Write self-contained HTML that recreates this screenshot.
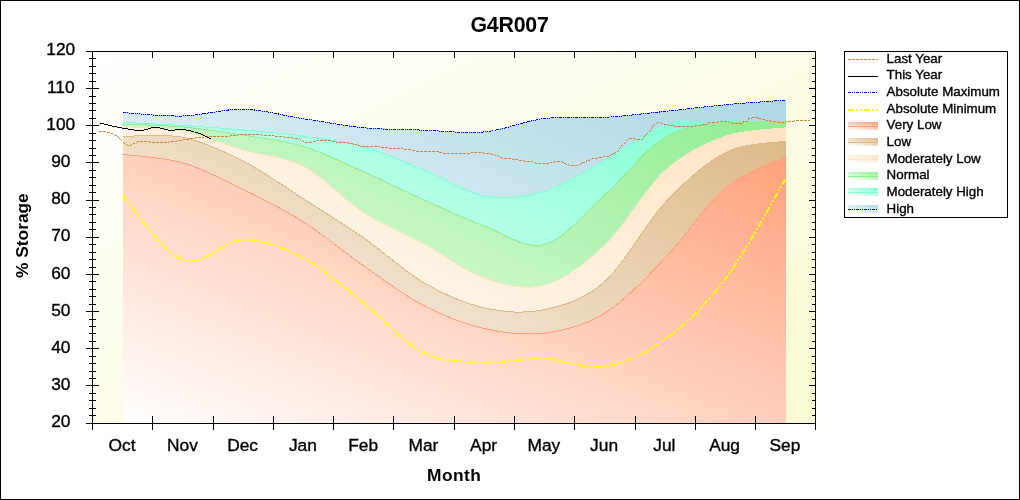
<!DOCTYPE html>
<html><head><meta charset="utf-8"><title>G4R007</title>
<style>html,body{margin:0;padding:0;background:#fff;}svg{display:block;}</style>
</head><body>
<svg width="1020" height="500" viewBox="0 0 1020 500">
<defs>
<linearGradient id="bg" x1="0" y1="0" x2="1" y2="1"><stop offset="0" stop-color="#FFFFFF"/><stop offset="1" stop-color="#FAFAD2"/></linearGradient>
<linearGradient id="gAMAX" x1="0" y1="1" x2="1" y2="0"><stop offset="0" stop-color="#FFFFFF"/><stop offset="1" stop-color="#ADD8E6"/></linearGradient>
<linearGradient id="gMH" x1="0" y1="1" x2="1" y2="0"><stop offset="0" stop-color="#FFFFFF"/><stop offset="1" stop-color="#7FFFD4"/></linearGradient>
<linearGradient id="gN" x1="0" y1="1" x2="1" y2="0"><stop offset="0" stop-color="#FFFFFF"/><stop offset="1" stop-color="#90EE90"/></linearGradient>
<linearGradient id="gML" x1="0" y1="1" x2="1" y2="0"><stop offset="0" stop-color="#FFFFFF"/><stop offset="1" stop-color="#FFE4C4"/></linearGradient>
<linearGradient id="gL" x1="0" y1="1" x2="1" y2="0"><stop offset="0" stop-color="#FFFFFF"/><stop offset="1" stop-color="#DEB887"/></linearGradient>
<linearGradient id="gVL" x1="0" y1="1" x2="1" y2="0"><stop offset="0" stop-color="#FFFFFF"/><stop offset="1" stop-color="#FFA07A"/></linearGradient>
</defs>
<rect x="0" y="0" width="1020" height="500" fill="#FFFFFF"/>
<rect x="0.5" y="0.5" width="1019" height="499" fill="none" stroke="#000" stroke-width="1" shape-rendering="crispEdges"/>
<rect x="92" y="51" width="723" height="372" fill="url(#bg)" shape-rendering="crispEdges"/>
<path d="M122.80,112.57 C132.84,113.14 162.97,116.55 183.05,115.99 C203.14,115.43 223.22,108.78 243.31,109.24 C263.39,109.70 283.48,115.66 303.56,118.74 C323.65,121.82 343.73,125.82 363.82,127.73 C383.90,129.63 403.99,129.47 424.07,130.16 C444.16,130.86 464.24,133.84 484.33,131.90 C504.41,129.97 524.50,120.99 544.58,118.56 C564.67,116.13 584.75,118.50 604.84,117.31 C624.92,116.12 645.01,113.50 665.09,111.42 C685.18,109.33 705.26,106.68 725.35,104.79 C745.43,102.90 775.56,100.89 785.60,100.11 L785.60,423 L122.80,423 Z" fill="url(#gAMAX)" shape-rendering="crispEdges"/>
<path d="M122.80,112.57 C132.84,113.14 162.97,116.55 183.05,115.99 C203.14,115.43 223.22,108.78 243.31,109.24 C263.39,109.70 283.48,115.66 303.56,118.74 C323.65,121.82 343.73,125.82 363.82,127.73 C383.90,129.63 403.99,129.47 424.07,130.16 C444.16,130.86 464.24,133.84 484.33,131.90 C504.41,129.97 524.50,120.99 544.58,118.56 C564.67,116.13 584.75,118.50 604.84,117.31 C624.92,116.12 645.01,113.50 665.09,111.42 C685.18,109.33 705.26,106.68 725.35,104.79 C745.43,102.90 775.56,100.89 785.60,100.11" fill="none" stroke="#ADD8E6" stroke-width="1" shape-rendering="crispEdges"/>
<path d="M122.80,122.29 C132.84,122.84 162.97,124.29 183.05,125.57 C203.14,126.85 223.22,128.21 243.31,129.97 C263.39,131.72 283.48,133.29 303.56,136.12 C323.65,138.94 343.73,141.26 363.82,146.92 C383.90,152.58 403.99,161.88 424.07,170.07 C444.16,178.26 464.24,192.50 484.33,196.05 C504.41,199.60 524.50,197.30 544.58,191.36 C564.67,185.42 584.75,171.44 604.84,160.42 C624.92,149.40 645.01,131.65 665.09,125.23 C685.18,118.81 705.26,122.60 725.35,121.90 C745.43,121.19 775.56,121.14 785.60,120.99 L785.60,423 L122.80,423 Z" fill="url(#gMH)" shape-rendering="crispEdges"/>
<path d="M122.80,122.29 C132.84,122.84 162.97,124.29 183.05,125.57 C203.14,126.85 223.22,128.21 243.31,129.97 C263.39,131.72 283.48,133.29 303.56,136.12 C323.65,138.94 343.73,141.26 363.82,146.92 C383.90,152.58 403.99,161.88 424.07,170.07 C444.16,178.26 464.24,192.50 484.33,196.05 C504.41,199.60 524.50,197.30 544.58,191.36 C564.67,185.42 584.75,171.44 604.84,160.42 C624.92,149.40 645.01,131.65 665.09,125.23 C685.18,118.81 705.26,122.60 725.35,121.90 C745.43,121.19 775.56,121.14 785.60,120.99" fill="none" stroke="#7FFFD4" stroke-width="1" shape-rendering="crispEdges"/>
<path d="M122.80,124.12 C132.84,124.61 162.97,125.20 183.05,127.04 C203.14,128.88 223.22,131.92 243.31,135.17 C263.39,138.42 283.48,140.44 303.56,146.55 C323.65,152.67 343.73,162.98 363.82,171.88 C383.90,180.77 403.99,190.87 424.07,199.91 C444.16,208.95 464.24,218.71 484.33,226.14 C504.41,233.56 524.50,249.72 544.58,244.48 C564.67,239.24 584.75,212.56 604.84,194.69 C624.92,176.82 645.01,149.28 665.09,137.27 C685.18,125.25 705.26,125.15 725.35,122.60 C745.43,120.05 775.56,122.07 785.60,121.97 L785.60,423 L122.80,423 Z" fill="url(#gN)" shape-rendering="crispEdges"/>
<path d="M122.2,124.12 L122.80,124.12 C132.84,124.61 162.97,125.20 183.05,127.04 C203.14,128.88 223.22,131.92 243.31,135.17 C263.39,138.42 283.48,140.44 303.56,146.55 C323.65,152.67 343.73,162.98 363.82,171.88 C383.90,180.77 403.99,190.87 424.07,199.91 C444.16,208.95 464.24,218.71 484.33,226.14 C504.41,233.56 524.50,249.72 544.58,244.48 C564.67,239.24 584.75,212.56 604.84,194.69 C624.92,176.82 645.01,149.28 665.09,137.27 C685.18,125.25 705.26,125.15 725.35,122.60 C745.43,120.05 775.56,122.07 785.60,121.97" fill="none" stroke="#90EE90" stroke-width="1" shape-rendering="crispEdges"/>
<path d="M122.80,126.48 C132.84,127.31 162.97,127.47 183.05,131.41 C203.14,135.35 223.22,144.27 243.31,150.11 C263.39,155.94 283.48,155.95 303.56,166.42 C323.65,176.89 343.73,199.99 363.82,212.92 C383.90,225.86 403.99,233.12 424.07,244.02 C444.16,254.91 464.24,271.43 484.33,278.29 C504.41,285.16 524.50,290.74 544.58,285.22 C564.67,279.69 584.75,264.22 604.84,245.13 C624.92,226.03 645.01,188.76 665.09,170.62 C685.18,152.48 705.26,143.41 725.35,136.29 C745.43,129.17 775.56,129.29 785.60,127.88 L785.60,423 L122.80,423 Z" fill="url(#gML)" shape-rendering="crispEdges"/>
<path d="M122.80,126.48 C132.84,127.31 162.97,127.47 183.05,131.41 C203.14,135.35 223.22,144.27 243.31,150.11 C263.39,155.94 283.48,155.95 303.56,166.42 C323.65,176.89 343.73,199.99 363.82,212.92 C383.90,225.86 403.99,233.12 424.07,244.02 C444.16,254.91 464.24,271.43 484.33,278.29 C504.41,285.16 524.50,290.74 544.58,285.22 C564.67,279.69 584.75,264.22 604.84,245.13 C624.92,226.03 645.01,188.76 665.09,170.62 C685.18,152.48 705.26,143.41 725.35,136.29 C745.43,129.17 775.56,129.29 785.60,127.88" fill="none" stroke="#FFE4C4" stroke-width="1" shape-rendering="crispEdges"/>
<path d="M122.80,136.40 C132.84,136.56 162.97,133.28 183.05,137.40 C203.14,141.52 223.22,150.86 243.31,161.12 C263.39,171.37 283.48,186.11 303.56,198.92 C323.65,211.73 343.73,223.99 363.82,237.98 C383.90,251.98 403.99,271.23 424.07,282.89 C444.16,294.54 464.24,303.45 484.33,307.91 C504.41,312.37 524.50,314.03 544.58,309.63 C564.67,305.24 584.75,299.38 604.84,281.55 C624.92,263.72 645.01,224.14 665.09,202.66 C685.18,181.19 705.26,162.95 725.35,152.69 C745.43,142.44 775.56,143.04 785.60,141.11 L785.60,423 L122.80,423 Z" fill="url(#gL)" shape-rendering="crispEdges"/>
<path d="M122.80,136.40 C132.84,136.56 162.97,133.28 183.05,137.40 C203.14,141.52 223.22,150.86 243.31,161.12 C263.39,171.37 283.48,186.11 303.56,198.92 C323.65,211.73 343.73,223.99 363.82,237.98 C383.90,251.98 403.99,271.23 424.07,282.89 C444.16,294.54 464.24,303.45 484.33,307.91 C504.41,312.37 524.50,314.03 544.58,309.63 C564.67,305.24 584.75,299.38 604.84,281.55 C624.92,263.72 645.01,224.14 665.09,202.66 C685.18,181.19 705.26,162.95 725.35,152.69 C745.43,142.44 775.56,143.04 785.60,141.11" fill="none" stroke="#DEB887" stroke-width="1" shape-rendering="crispEdges"/>
<path d="M122.80,154.36 C132.84,155.78 162.97,157.04 183.05,162.90 C203.14,168.75 223.22,179.67 243.31,189.51 C263.39,199.35 283.48,209.19 303.56,221.94 C323.65,234.69 343.73,252.05 363.82,266.02 C383.90,279.99 403.99,295.33 424.07,305.75 C444.16,316.18 464.24,324.04 484.33,328.58 C504.41,333.13 524.50,335.60 544.58,333.03 C564.67,330.47 584.75,325.67 604.84,313.18 C624.92,300.69 645.01,278.93 665.09,258.08 C685.18,237.24 705.26,204.95 725.35,188.10 C745.43,171.25 775.56,162.17 785.60,156.99 L785.60,423 L122.80,423 Z" fill="url(#gVL)" shape-rendering="crispEdges"/>
<path d="M122.2,154.36 L122.80,154.36 C132.84,155.78 162.97,157.04 183.05,162.90 C203.14,168.75 223.22,179.67 243.31,189.51 C263.39,199.35 283.48,209.19 303.56,221.94 C323.65,234.69 343.73,252.05 363.82,266.02 C383.90,279.99 403.99,295.33 424.07,305.75 C444.16,316.18 464.24,324.04 484.33,328.58 C504.41,333.13 524.50,335.60 544.58,333.03 C564.67,330.47 584.75,325.67 604.84,313.18 C624.92,300.69 645.01,278.93 665.09,258.08 C685.18,237.24 705.26,204.95 725.35,188.10 C745.43,171.25 775.56,162.17 785.60,156.99" fill="none" stroke="#FFA07A" stroke-width="1" shape-rendering="crispEdges"/>
<path d="M99,131h1v1h-1zM100,131h1v1h-1zM101,131h1v1h-1zM103,131h1v1h-1zM104,131h1v1h-1zM105,131h1v1h-1zM107,132h1v1h-1zM108,132h1v1h-1zM109,132h1v1h-1zM111,133h1v1h-1zM112,133h1v1h-1zM114,134h1v1h-1zM115,135h1v1h-1zM116,135h1v1h-1zM117,136h1v1h-1zM118,137h1v1h-1zM119,138h1v1h-1zM120,139h1v1h-1zM121,140h1v1h-1zM123,142h1v1h-1zM124,143h1v1h-1zM126,144h1v1h-1zM127,145h1v1h-1zM128,145h1v1h-1zM130,145h1v1h-1zM131,144h1v1h-1zM133,143h1v1h-1zM134,143h1v1h-1zM136,142h1v1h-1zM137,141h1v1h-1zM138,141h1v1h-1zM140,141h1v1h-1zM141,141h1v1h-1zM142,141h1v1h-1zM144,141h1v1h-1zM145,141h1v1h-1zM146,141h1v1h-1zM148,141h1v1h-1zM149,141h1v1h-1zM150,142h1v1h-1zM152,142h1v1h-1zM153,142h1v1h-1zM154,142h1v1h-1zM156,142h1v1h-1zM157,142h1v1h-1zM158,142h1v1h-1zM160,142h1v1h-1zM161,142h1v1h-1zM162,142h1v1h-1zM164,142h1v1h-1zM165,142h1v1h-1zM166,142h1v1h-1zM168,142h1v1h-1zM169,141h1v1h-1zM171,141h1v1h-1zM172,141h1v1h-1zM173,141h1v1h-1zM175,141h1v1h-1zM176,141h1v1h-1zM177,140h1v1h-1zM179,140h1v1h-1zM180,140h1v1h-1zM181,140h1v1h-1zM183,139h1v1h-1zM184,139h1v1h-1zM186,139h1v1h-1zM187,139h1v1h-1zM188,139h1v1h-1zM190,138h1v1h-1zM191,138h1v1h-1zM192,138h1v1h-1zM194,138h1v1h-1zM195,137h1v1h-1zM196,137h1v1h-1zM198,137h1v1h-1zM199,137h1v1h-1zM200,137h1v1h-1zM202,137h1v1h-1zM203,137h1v1h-1zM205,136h1v1h-1zM206,136h1v1h-1zM207,136h1v1h-1zM209,136h1v1h-1zM210,136h1v1h-1zM211,136h1v1h-1zM213,136h1v1h-1zM214,136h1v1h-1zM215,136h1v1h-1zM217,136h1v1h-1zM218,136h1v1h-1zM219,136h1v1h-1zM221,136h1v1h-1zM222,136h1v1h-1zM223,136h1v1h-1zM225,136h1v1h-1zM226,136h1v1h-1zM227,136h1v1h-1zM229,136h1v1h-1zM230,135h1v1h-1zM231,135h1v1h-1zM233,135h1v1h-1zM234,135h1v1h-1zM235,135h1v1h-1zM237,135h1v1h-1zM238,134h1v1h-1zM240,134h1v1h-1zM241,134h1v1h-1zM242,134h1v1h-1zM244,134h1v1h-1zM245,134h1v1h-1zM246,134h1v1h-1zM248,134h1v1h-1zM249,134h1v1h-1zM250,134h1v1h-1zM252,134h1v1h-1zM253,134h1v1h-1zM254,134h1v1h-1zM256,134h1v1h-1zM257,134h1v1h-1zM258,134h1v1h-1zM260,134h1v1h-1zM261,134h1v1h-1zM262,135h1v1h-1zM264,135h1v1h-1zM265,135h1v1h-1zM266,135h1v1h-1zM268,135h1v1h-1zM269,135h1v1h-1zM270,135h1v1h-1zM272,135h1v1h-1zM273,135h1v1h-1zM275,136h1v1h-1zM276,136h1v1h-1zM277,136h1v1h-1zM279,136h1v1h-1zM280,136h1v1h-1zM281,136h1v1h-1zM283,136h1v1h-1zM284,137h1v1h-1zM285,137h1v1h-1zM287,137h1v1h-1zM288,137h1v1h-1zM289,137h1v1h-1zM291,137h1v1h-1zM292,137h1v1h-1zM293,138h1v1h-1zM295,138h1v1h-1zM296,138h1v1h-1zM297,138h1v1h-1zM299,138h1v1h-1zM300,139h1v1h-1zM302,140h1v1h-1zM303,141h1v1h-1zM305,142h1v1h-1zM306,142h1v1h-1zM307,142h1v1h-1zM309,142h1v1h-1zM310,142h1v1h-1zM311,142h1v1h-1zM313,141h1v1h-1zM314,141h1v1h-1zM315,141h1v1h-1zM317,140h1v1h-1zM318,140h1v1h-1zM320,140h1v1h-1zM321,140h1v1h-1zM322,140h1v1h-1zM324,140h1v1h-1zM325,140h1v1h-1zM326,140h1v1h-1zM328,140h1v1h-1zM329,140h1v1h-1zM330,140h1v1h-1zM332,141h1v1h-1zM333,141h1v1h-1zM334,141h1v1h-1zM336,142h1v1h-1zM337,142h1v1h-1zM339,142h1v1h-1zM340,142h1v1h-1zM341,142h1v1h-1zM343,142h1v1h-1zM344,142h1v1h-1zM345,142h1v1h-1zM347,142h1v1h-1zM348,143h1v1h-1zM349,143h1v1h-1zM351,143h1v1h-1zM352,143h1v1h-1zM353,144h1v1h-1zM355,144h1v1h-1zM356,144h1v1h-1zM358,145h1v1h-1zM359,145h1v1h-1zM360,146h1v1h-1zM362,146h1v1h-1zM363,146h1v1h-1zM364,146h1v1h-1zM366,146h1v1h-1zM367,146h1v1h-1zM368,146h1v1h-1zM370,146h1v1h-1zM371,146h1v1h-1zM372,146h1v1h-1zM374,146h1v1h-1zM375,146h1v1h-1zM376,146h1v1h-1zM378,146h1v1h-1zM379,146h1v1h-1zM381,147h1v1h-1zM382,147h1v1h-1zM383,147h1v1h-1zM385,147h1v1h-1zM386,147h1v1h-1zM387,147h1v1h-1zM389,148h1v1h-1zM390,148h1v1h-1zM391,148h1v1h-1zM393,148h1v1h-1zM394,148h1v1h-1zM395,148h1v1h-1zM397,148h1v1h-1zM398,148h1v1h-1zM399,148h1v1h-1zM401,148h1v1h-1zM402,148h1v1h-1zM404,149h1v1h-1zM405,149h1v1h-1zM406,149h1v1h-1zM408,149h1v1h-1zM409,149h1v1h-1zM410,149h1v1h-1zM412,150h1v1h-1zM413,150h1v1h-1zM414,150h1v1h-1zM416,151h1v1h-1zM417,151h1v1h-1zM418,151h1v1h-1zM420,151h1v1h-1zM421,151h1v1h-1zM422,151h1v1h-1zM424,151h1v1h-1zM425,151h1v1h-1zM426,151h1v1h-1zM428,151h1v1h-1zM429,151h1v1h-1zM430,151h1v1h-1zM432,151h1v1h-1zM433,151h1v1h-1zM434,151h1v1h-1zM436,151h1v1h-1zM437,151h1v1h-1zM438,151h1v1h-1zM439,152h1v1h-1zM440,152h1v1h-1zM441,152h1v1h-1zM443,153h1v1h-1zM444,153h1v1h-1zM445,153h1v1h-1zM447,153h1v1h-1zM448,153h1v1h-1zM449,153h1v1h-1zM451,153h1v1h-1zM452,153h1v1h-1zM453,153h1v1h-1zM455,153h1v1h-1zM456,153h1v1h-1zM457,153h1v1h-1zM459,153h1v1h-1zM460,153h1v1h-1zM461,153h1v1h-1zM463,153h1v1h-1zM464,153h1v1h-1zM465,153h1v1h-1zM467,153h1v1h-1zM468,153h1v1h-1zM469,153h1v1h-1zM471,152h1v1h-1zM472,152h1v1h-1zM474,152h1v1h-1zM475,152h1v1h-1zM476,152h1v1h-1zM478,152h1v1h-1zM479,152h1v1h-1zM480,152h1v1h-1zM482,152h1v1h-1zM483,153h1v1h-1zM484,153h1v1h-1zM486,153h1v1h-1zM487,153h1v1h-1zM488,153h1v1h-1zM490,153h1v1h-1zM491,154h1v1h-1zM492,154h1v1h-1zM494,154h1v1h-1zM495,155h1v1h-1zM497,155h1v1h-1zM498,156h1v1h-1zM500,157h1v1h-1zM501,157h1v1h-1zM502,158h1v1h-1zM504,158h1v1h-1zM505,158h1v1h-1zM506,158h1v1h-1zM508,158h1v1h-1zM509,158h1v1h-1zM510,158h1v1h-1zM512,159h1v1h-1zM513,159h1v1h-1zM515,159h1v1h-1zM516,159h1v1h-1zM517,159h1v1h-1zM519,160h1v1h-1zM520,160h1v1h-1zM521,160h1v1h-1zM523,160h1v1h-1zM524,161h1v1h-1zM525,161h1v1h-1zM527,161h1v1h-1zM528,161h1v1h-1zM529,161h1v1h-1zM531,161h1v1h-1zM532,161h1v1h-1zM534,162h1v1h-1zM535,163h1v1h-1zM536,163h1v1h-1zM538,163h1v1h-1zM539,163h1v1h-1zM540,163h1v1h-1zM542,163h1v1h-1zM543,163h1v1h-1zM544,163h1v1h-1zM546,163h1v1h-1zM547,163h1v1h-1zM548,163h1v1h-1zM550,162h1v1h-1zM551,162h1v1h-1zM553,162h1v1h-1zM554,161h1v1h-1zM555,161h1v1h-1zM557,161h1v1h-1zM558,161h1v1h-1zM559,161h1v1h-1zM561,161h1v1h-1zM562,162h1v1h-1zM563,162h1v1h-1zM564,163h1v1h-1zM565,163h1v1h-1zM566,164h1v1h-1zM568,164h1v1h-1zM569,165h1v1h-1zM571,165h1v1h-1zM572,165h1v1h-1zM573,165h1v1h-1zM575,165h1v1h-1zM576,165h1v1h-1zM577,165h1v1h-1zM579,164h1v1h-1zM580,164h1v1h-1zM581,163h1v1h-1zM582,162h1v1h-1zM583,162h1v1h-1zM584,162h1v1h-1zM586,161h1v1h-1zM586,160h1v1h-1zM588,160h1v1h-1zM589,160h1v1h-1zM590,159h1v1h-1zM592,158h1v1h-1zM593,158h1v1h-1zM595,158h1v1h-1zM596,158h1v1h-1zM597,158h1v1h-1zM599,157h1v1h-1zM600,157h1v1h-1zM601,157h1v1h-1zM603,156h1v1h-1zM604,156h1v1h-1zM606,156h1v1h-1zM607,156h1v1h-1zM608,156h1v1h-1zM610,155h1v1h-1zM611,154h1v1h-1zM612,154h1v1h-1zM613,153h1v1h-1zM614,153h1v1h-1zM615,152h1v1h-1zM617,151h1v1h-1zM618,150h1v1h-1zM619,148h1v1h-1zM620,147h1v1h-1zM621,145h1v1h-1zM622,145h1v1h-1zM624,143h1v1h-1zM625,142h1v1h-1zM626,140h1v1h-1zM627,139h1v1h-1zM629,138h1v1h-1zM630,138h1v1h-1zM631,138h1v1h-1zM633,138h1v1h-1zM634,138h1v1h-1zM635,139h1v1h-1zM637,139h1v1h-1zM638,139h1v1h-1zM639,139h1v1h-1zM641,139h1v1h-1zM642,139h1v1h-1zM643,137h1v1h-1zM644,136h1v1h-1zM645,135h1v1h-1zM646,134h1v1h-1zM647,133h1v1h-1zM649,131h1v1h-1zM650,130h1v1h-1zM651,128h1v1h-1zM652,127h1v1h-1zM652,126h1v1h-1zM653,125h1v1h-1zM654,124h1v1h-1zM656,123h1v1h-1zM657,122h1v1h-1zM658,122h1v1h-1zM660,122h1v1h-1zM661,123h1v1h-1zM662,123h1v1h-1zM664,124h1v1h-1zM665,124h1v1h-1zM667,124h1v1h-1zM668,125h1v1h-1zM669,125h1v1h-1zM671,125h1v1h-1zM672,125h1v1h-1zM673,125h1v1h-1zM674,126h1v1h-1zM675,126h1v1h-1zM676,126h1v1h-1zM678,126h1v1h-1zM679,126h1v1h-1zM680,126h1v1h-1zM682,126h1v1h-1zM683,126h1v1h-1zM684,126h1v1h-1zM686,126h1v1h-1zM687,126h1v1h-1zM688,126h1v1h-1zM690,126h1v1h-1zM691,126h1v1h-1zM692,126h1v1h-1zM694,126h1v1h-1zM695,125h1v1h-1zM696,125h1v1h-1zM698,125h1v1h-1zM699,125h1v1h-1zM700,125h1v1h-1zM702,124h1v1h-1zM703,124h1v1h-1zM704,124h1v1h-1zM706,124h1v1h-1zM707,123h1v1h-1zM708,122h1v1h-1zM709,122h1v1h-1zM710,122h1v1h-1zM712,122h1v1h-1zM713,122h1v1h-1zM714,122h1v1h-1zM716,122h1v1h-1zM717,122h1v1h-1zM718,121h1v1h-1zM720,121h1v1h-1zM721,121h1v1h-1zM722,121h1v1h-1zM724,121h1v1h-1zM725,121h1v1h-1zM726,121h1v1h-1zM728,121h1v1h-1zM729,122h1v1h-1zM731,122h1v1h-1zM732,123h1v1h-1zM733,123h1v1h-1zM735,123h1v1h-1zM736,123h1v1h-1zM737,123h1v1h-1zM739,123h1v1h-1zM740,123h1v1h-1zM741,123h1v1h-1zM743,122h1v1h-1zM743,121h1v1h-1zM745,121h1v1h-1zM746,121h1v1h-1zM747,121h1v1h-1zM748,119h1v1h-1zM748,118h1v1h-1zM749,118h1v1h-1zM751,118h1v1h-1zM752,117h1v1h-1zM753,117h1v1h-1zM755,117h1v1h-1zM756,117h1v1h-1zM757,117h1v1h-1zM758,118h1v1h-1zM759,118h1v1h-1zM760,118h1v1h-1zM762,119h1v1h-1zM763,119h1v1h-1zM764,119h1v1h-1zM766,120h1v1h-1zM767,120h1v1h-1zM769,120h1v1h-1zM770,120h1v1h-1zM771,121h1v1h-1zM773,121h1v1h-1zM774,121h1v1h-1zM775,121h1v1h-1zM777,121h1v1h-1zM778,122h1v1h-1zM779,122h1v1h-1zM781,122h1v1h-1zM782,122h1v1h-1zM783,122h1v1h-1zM785,122h1v1h-1zM786,121h1v1h-1zM788,121h1v1h-1zM789,121h1v1h-1zM790,121h1v1h-1zM792,121h1v1h-1zM793,121h1v1h-1zM794,120h1v1h-1zM796,120h1v1h-1zM797,120h1v1h-1zM798,120h1v1h-1zM800,120h1v1h-1zM801,120h1v1h-1zM802,120h1v1h-1zM804,120h1v1h-1zM805,120h1v1h-1zM806,120h1v1h-1zM808,120h1v1h-1zM809,120h1v1h-1z" fill="#CD853F" shape-rendering="crispEdges"/>
<path d="M122.80,112.57 C132.84,113.14 162.97,116.55 183.05,115.99 C203.14,115.43 223.22,108.78 243.31,109.24 C263.39,109.70 283.48,115.66 303.56,118.74 C323.65,121.82 343.73,125.82 363.82,127.73 C383.90,129.63 403.99,129.47 424.07,130.16 C444.16,130.86 464.24,133.84 484.33,131.90 C504.41,129.97 524.50,120.99 544.58,118.56 C564.67,116.13 584.75,118.50 604.84,117.31 C624.92,116.12 645.01,113.50 665.09,111.42 C685.18,109.33 705.26,106.68 725.35,104.79 C745.43,102.90 775.56,100.89 785.60,100.11" fill="none" stroke="#0000FF" stroke-width="1" stroke-dasharray="3,1,1,1,1,1" shape-rendering="crispEdges"/>
<path d="M122.80,196.07 C132.84,206.73 162.97,252.73 183.05,260.04 C203.14,267.36 223.22,240.27 243.31,239.96 C263.39,239.66 283.48,247.68 303.56,258.22 C323.65,268.75 343.73,287.37 363.82,303.19 C383.90,319.01 403.99,343.32 424.07,353.14 C444.16,362.96 464.24,361.17 484.33,362.12 C504.41,363.06 524.50,358.10 544.58,358.80 C564.67,359.50 584.75,369.57 604.84,366.31 C624.92,363.05 645.01,353.81 665.09,339.24 C685.18,324.67 705.26,305.61 725.35,278.89 C745.43,252.17 775.56,195.57 785.60,178.90" fill="none" stroke="#FFFF00" stroke-width="2" stroke-dasharray="6,2,2,2,2,2" shape-rendering="crispEdges"/>
<path d="M100,123h4v1h-4zM104,124h4v1h-4zM108,125h4v1h-4zM112,126h5v1h-5zM117,127h5v1h-5zM122,128h6v1h-6zM128,129h6v1h-6zM134,130h10v1h-10zM144,129h4v1h-4zM148,128h3v1h-3zM151,127h9v1h-9zM160,128h4v1h-4zM164,129h4v1h-4zM168,130h7v1h-7zM175,129h11v1h-11zM186,130h5v1h-5zM191,131h3v1h-3zM195,132h3v1h-3zM198,133h3v1h-3zM201,134h2v1h-2zM203,135h2v1h-2zM205,136h2v1h-2zM207,137h2v1h-2zM209,138h2v1h-2z" fill="#000" shape-rendering="crispEdges"/>
<path d="M92.5,51 V430 M815.5,51 V424 M86,51.5 H816 M86,423.5 H816 M86,423.5 H99 M809,423.5 H816 M89,415.5 H96 M812,415.5 H816 M89,408.5 H96 M812,408.5 H816 M89,400.5 H96 M812,400.5 H816 M89,393.5 H96 M812,393.5 H816 M86,385.5 H99 M809,385.5 H816 M89,378.5 H96 M812,378.5 H816 M89,371.5 H96 M812,371.5 H816 M89,363.5 H96 M812,363.5 H816 M89,356.5 H96 M812,356.5 H816 M86,348.5 H99 M809,348.5 H816 M89,341.5 H96 M812,341.5 H816 M89,333.5 H96 M812,333.5 H816 M89,326.5 H96 M812,326.5 H816 M89,319.5 H96 M812,319.5 H816 M86,311.5 H99 M809,311.5 H816 M89,304.5 H96 M812,304.5 H816 M89,296.5 H96 M812,296.5 H816 M89,289.5 H96 M812,289.5 H816 M89,281.5 H96 M812,281.5 H816 M86,274.5 H99 M809,274.5 H816 M89,267.5 H96 M812,267.5 H816 M89,259.5 H96 M812,259.5 H816 M89,252.5 H96 M812,252.5 H816 M89,244.5 H96 M812,244.5 H816 M86,237.5 H99 M809,237.5 H816 M89,229.5 H96 M812,229.5 H816 M89,222.5 H96 M812,222.5 H816 M89,214.5 H96 M812,214.5 H816 M89,207.5 H96 M812,207.5 H816 M86,200.5 H99 M809,200.5 H816 M89,192.5 H96 M812,192.5 H816 M89,185.5 H96 M812,185.5 H816 M89,177.5 H96 M812,177.5 H816 M89,170.5 H96 M812,170.5 H816 M86,162.5 H99 M809,162.5 H816 M89,155.5 H96 M812,155.5 H816 M89,148.5 H96 M812,148.5 H816 M89,140.5 H96 M812,140.5 H816 M89,133.5 H96 M812,133.5 H816 M86,125.5 H99 M809,125.5 H816 M89,118.5 H96 M812,118.5 H816 M89,110.5 H96 M812,110.5 H816 M89,103.5 H96 M812,103.5 H816 M89,96.5 H96 M812,96.5 H816 M86,88.5 H99 M809,88.5 H816 M89,81.5 H96 M812,81.5 H816 M89,73.5 H96 M812,73.5 H816 M89,66.5 H96 M812,66.5 H816 M89,58.5 H96 M812,58.5 H816 M86,51.5 H99 M809,51.5 H816 M92.5,416 V430 M92.5,51 V58 M152.5,416 V430 M152.5,51 V58 M213.5,416 V430 M213.5,51 V58 M273.5,416 V430 M273.5,51 V58 M333.5,416 V430 M333.5,51 V58 M393.5,416 V430 M393.5,51 V58 M454.5,416 V430 M454.5,51 V58 M514.5,416 V430 M514.5,51 V58 M574.5,416 V430 M574.5,51 V58 M635.5,416 V430 M635.5,51 V58 M695.5,416 V430 M695.5,51 V58 M755.5,416 V430 M755.5,51 V58 M815.5,416 V430 M815.5,51 V58" fill="none" stroke="#000" stroke-width="1" shape-rendering="crispEdges"/>
<text x="509.5" y="32" font-family="Liberation Sans, Arial, sans-serif" font-size="21.33" letter-spacing="-0.2" font-weight="bold" text-anchor="middle" fill="#000">G4R007</text>
<text x="60.8" y="427.3" font-family="Liberation Sans, Arial, sans-serif" stroke="#000" stroke-width="0.35" font-size="17.33" text-anchor="middle" fill="#000">20</text>
<text x="60.8" y="390.1" font-family="Liberation Sans, Arial, sans-serif" stroke="#000" stroke-width="0.35" font-size="17.33" text-anchor="middle" fill="#000">30</text>
<text x="60.8" y="352.9" font-family="Liberation Sans, Arial, sans-serif" stroke="#000" stroke-width="0.35" font-size="17.33" text-anchor="middle" fill="#000">40</text>
<text x="60.8" y="315.7" font-family="Liberation Sans, Arial, sans-serif" stroke="#000" stroke-width="0.35" font-size="17.33" text-anchor="middle" fill="#000">50</text>
<text x="60.8" y="278.5" font-family="Liberation Sans, Arial, sans-serif" stroke="#000" stroke-width="0.35" font-size="17.33" text-anchor="middle" fill="#000">60</text>
<text x="60.8" y="241.3" font-family="Liberation Sans, Arial, sans-serif" stroke="#000" stroke-width="0.35" font-size="17.33" text-anchor="middle" fill="#000">70</text>
<text x="60.8" y="204.1" font-family="Liberation Sans, Arial, sans-serif" stroke="#000" stroke-width="0.35" font-size="17.33" text-anchor="middle" fill="#000">80</text>
<text x="60.8" y="166.9" font-family="Liberation Sans, Arial, sans-serif" stroke="#000" stroke-width="0.35" font-size="17.33" text-anchor="middle" fill="#000">90</text>
<text x="60.8" y="129.7" font-family="Liberation Sans, Arial, sans-serif" stroke="#000" stroke-width="0.35" font-size="17.33" text-anchor="middle" fill="#000">100</text>
<text x="60.8" y="92.5" font-family="Liberation Sans, Arial, sans-serif" stroke="#000" stroke-width="0.35" font-size="17.33" text-anchor="middle" fill="#000">110</text>
<text x="60.8" y="55.3" font-family="Liberation Sans, Arial, sans-serif" stroke="#000" stroke-width="0.35" font-size="17.33" text-anchor="middle" fill="#000">120</text>
<text x="122.1" y="451.3" font-family="Liberation Sans, Arial, sans-serif" stroke="#000" stroke-width="0.35" font-size="17.33" text-anchor="middle" fill="#000">Oct</text>
<text x="182.4" y="451.3" font-family="Liberation Sans, Arial, sans-serif" stroke="#000" stroke-width="0.35" font-size="17.33" text-anchor="middle" fill="#000">Nov</text>
<text x="242.6" y="451.3" font-family="Liberation Sans, Arial, sans-serif" stroke="#000" stroke-width="0.35" font-size="17.33" text-anchor="middle" fill="#000">Dec</text>
<text x="302.9" y="451.3" font-family="Liberation Sans, Arial, sans-serif" stroke="#000" stroke-width="0.35" font-size="17.33" text-anchor="middle" fill="#000">Jan</text>
<text x="363.1" y="451.3" font-family="Liberation Sans, Arial, sans-serif" stroke="#000" stroke-width="0.35" font-size="17.33" text-anchor="middle" fill="#000">Feb</text>
<text x="423.4" y="451.3" font-family="Liberation Sans, Arial, sans-serif" stroke="#000" stroke-width="0.35" font-size="17.33" text-anchor="middle" fill="#000">Mar</text>
<text x="483.6" y="451.3" font-family="Liberation Sans, Arial, sans-serif" stroke="#000" stroke-width="0.35" font-size="17.33" text-anchor="middle" fill="#000">Apr</text>
<text x="543.9" y="451.3" font-family="Liberation Sans, Arial, sans-serif" stroke="#000" stroke-width="0.35" font-size="17.33" text-anchor="middle" fill="#000">May</text>
<text x="604.1" y="451.3" font-family="Liberation Sans, Arial, sans-serif" stroke="#000" stroke-width="0.35" font-size="17.33" text-anchor="middle" fill="#000">Jun</text>
<text x="664.4" y="451.3" font-family="Liberation Sans, Arial, sans-serif" stroke="#000" stroke-width="0.35" font-size="17.33" text-anchor="middle" fill="#000">Jul</text>
<text x="724.6" y="451.3" font-family="Liberation Sans, Arial, sans-serif" stroke="#000" stroke-width="0.35" font-size="17.33" text-anchor="middle" fill="#000">Aug</text>
<text x="784.9" y="451.3" font-family="Liberation Sans, Arial, sans-serif" stroke="#000" stroke-width="0.35" font-size="17.33" text-anchor="middle" fill="#000">Sep</text>
<text x="454.2" y="481" font-family="Liberation Sans, Arial, sans-serif" font-size="17.33" letter-spacing="0.45" font-weight="bold" text-anchor="middle" fill="#000">Month</text>
<text transform="translate(28.3,235.6) rotate(-90)" font-family="Liberation Sans, Arial, sans-serif" font-size="17.33" font-weight="bold" text-anchor="middle" fill="#000">% Storage</text>
<rect x="844.5" y="51.5" width="163" height="166" fill="#FFFFFF" stroke="#000" stroke-width="1" shape-rendering="crispEdges"/>
<path d="M848,59.5 H878" stroke="#CD853F" stroke-width="1" stroke-dasharray="3,1" fill="none" shape-rendering="crispEdges"/>
<text x="886.6" y="62.5" font-family="Liberation Sans, Arial, sans-serif" stroke="#000" stroke-width="0.35" font-size="13.33" fill="#000">Last Year</text>
<path d="M848,76.5 H878" stroke="#000000" stroke-width="1" fill="none" shape-rendering="crispEdges"/>
<text x="886.6" y="79.2" font-family="Liberation Sans, Arial, sans-serif" stroke="#000" stroke-width="0.35" font-size="13.33" fill="#000">This Year</text>
<path d="M848,92.5 H878" stroke="#0000FF" stroke-width="1" stroke-dasharray="3,1,1,1,1,1" fill="none" shape-rendering="crispEdges"/>
<text x="886.6" y="95.8" font-family="Liberation Sans, Arial, sans-serif" stroke="#000" stroke-width="0.35" font-size="13.33" fill="#000">Absolute Maximum</text>
<path d="M848,110 H878" stroke="#FFFF00" stroke-width="2" stroke-dasharray="6,2,2,2,2,2" fill="none" shape-rendering="crispEdges"/>
<text x="886.6" y="112.5" font-family="Liberation Sans, Arial, sans-serif" stroke="#000" stroke-width="0.35" font-size="13.33" fill="#000">Absolute Minimum</text>
<rect x="848" y="122" width="30" height="8" fill="url(#gVL)" shape-rendering="crispEdges"/>
<path d="M848,126.5 H878" stroke="#FFA07A" stroke-width="1" fill="none" shape-rendering="crispEdges"/>
<text x="886.6" y="129.2" font-family="Liberation Sans, Arial, sans-serif" stroke="#000" stroke-width="0.35" font-size="13.33" fill="#000">Very Low</text>
<rect x="848" y="138" width="30" height="8" fill="url(#gL)" shape-rendering="crispEdges"/>
<path d="M848,142.5 H878" stroke="#DEB887" stroke-width="1" fill="none" shape-rendering="crispEdges"/>
<text x="886.6" y="145.8" font-family="Liberation Sans, Arial, sans-serif" stroke="#000" stroke-width="0.35" font-size="13.33" fill="#000">Low</text>
<rect x="848" y="155" width="30" height="8" fill="url(#gML)" shape-rendering="crispEdges"/>
<path d="M848,159.5 H878" stroke="#FFE4C4" stroke-width="1" fill="none" shape-rendering="crispEdges"/>
<text x="886.6" y="162.5" font-family="Liberation Sans, Arial, sans-serif" stroke="#000" stroke-width="0.35" font-size="13.33" fill="#000">Moderately Low</text>
<rect x="848" y="172" width="30" height="8" fill="url(#gN)" shape-rendering="crispEdges"/>
<path d="M848,176.5 H878" stroke="#90EE90" stroke-width="1" fill="none" shape-rendering="crispEdges"/>
<text x="886.6" y="179.2" font-family="Liberation Sans, Arial, sans-serif" stroke="#000" stroke-width="0.35" font-size="13.33" fill="#000">Normal</text>
<rect x="848" y="188" width="30" height="8" fill="url(#gMH)" shape-rendering="crispEdges"/>
<path d="M848,192.5 H878" stroke="#7FFFD4" stroke-width="1" fill="none" shape-rendering="crispEdges"/>
<text x="886.6" y="195.9" font-family="Liberation Sans, Arial, sans-serif" stroke="#000" stroke-width="0.35" font-size="13.33" fill="#000">Moderately High</text>
<rect x="848" y="205" width="30" height="8" fill="url(#gAMAX)" shape-rendering="crispEdges"/>
<path d="M848,209.5 H878" stroke="#0000FF" stroke-width="1" stroke-dasharray="3,1,1,1,1,1" fill="none" shape-rendering="crispEdges"/>
<text x="886.6" y="212.5" font-family="Liberation Sans, Arial, sans-serif" stroke="#000" stroke-width="0.35" font-size="13.33" fill="#000">High</text>
</svg>
</body></html>
